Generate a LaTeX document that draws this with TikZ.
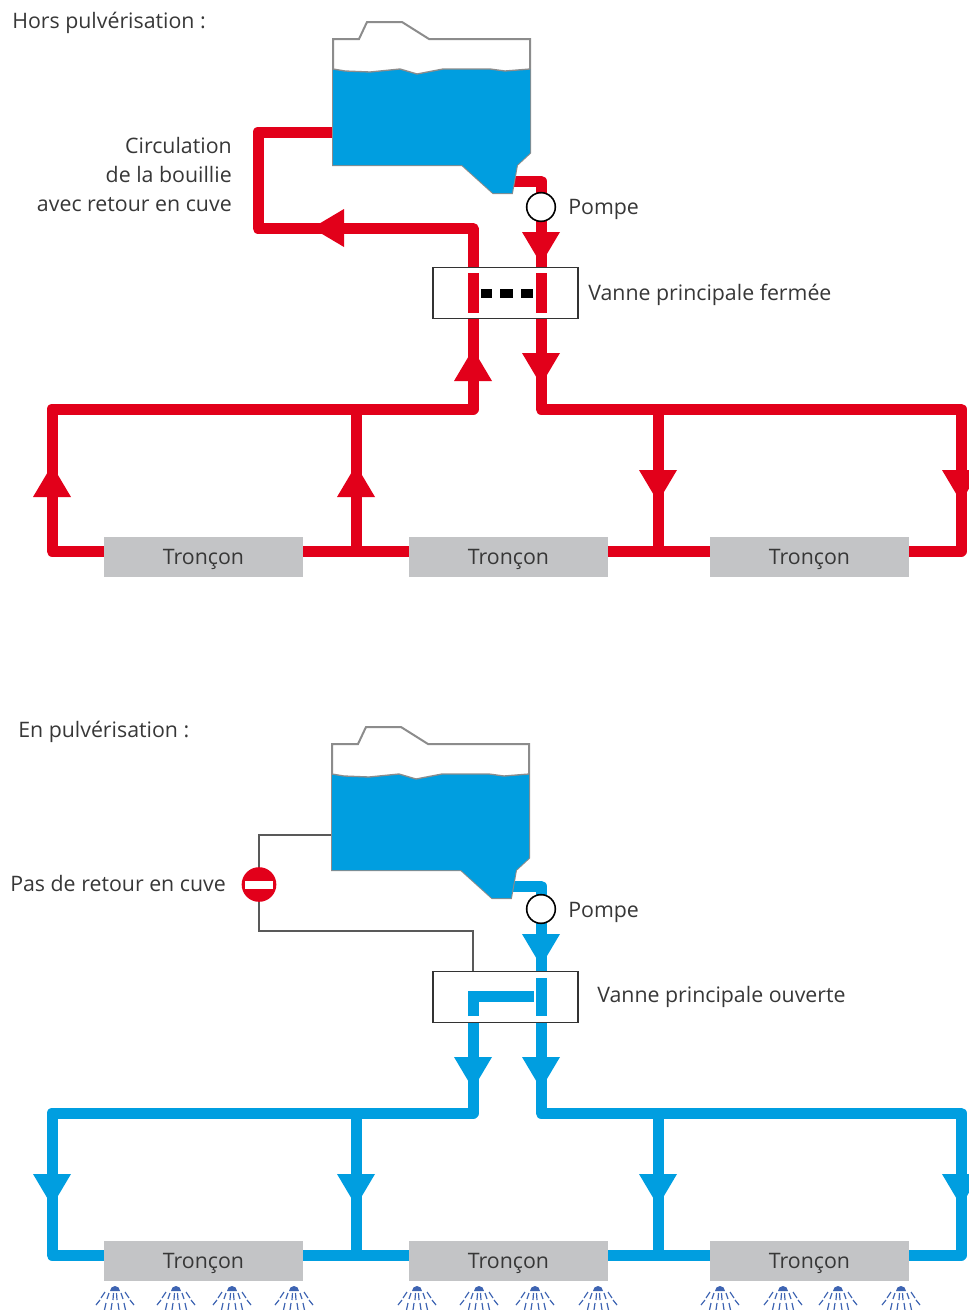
\documentclass[tikz,border=0pt]{standalone}
\usepackage{fontspec}
\setmainfont{Open Sans}
\definecolor{pipered}{RGB}{226,0,26}
\definecolor{pipeblue}{RGB}{0,158,224}
\definecolor{tronconGray}{RGB}{195,196,198}
\definecolor{sprayblue}{RGB}{62,100,178}
\definecolor{labelgray}{RGB}{55,55,55}
\tikzset{
  redpipe/.style={draw=pipered,line width=8.25pt,line join=round},
  bluepipe/.style={draw=pipeblue,line width=8.25pt,line join=round},
  redbar/.style={draw=pipered,line width=8.25pt},
  bluebar/.style={draw=pipeblue,line width=8.25pt},
  drypipe/.style={draw=black!65,line width=1.5pt},
  tanktop/.style={draw=black!45,line width=1.5pt,fill=white},
  pompe/.style={draw=black,line width=1.2pt,fill=white,circle,minimum size=21.5pt,inner sep=0pt},
  vanne/.style={draw=black!80,line width=1.2pt,minimum width=108.75pt,minimum height=38.5pt,inner sep=0pt},
  troncon/.style={fill=tronconGray,minimum width=149.25pt,minimum height=29.5pt,inner sep=0pt},
  legende/.style={text=labelgray,inner sep=0pt,yshift=-1.5pt,font=\fontsize{16}{21.75}\selectfont},
  heaup/.pic={\fill (-19,-16) -- (19,-16) -- (0,16) -- cycle;},
  headown/.pic={\fill (-19,16) -- (19,16) -- (0,-16) -- cycle;},
  headleft/.pic={\fill (16,-19) -- (16,19) -- (-16,0) -- cycle;},
  spray/.pic={
    \fill[sprayblue] (-5,-6) arc (180:0:5) -- cycle;
    \draw[sprayblue,line width=0.9pt] (-1.5,-8) -- (-2,-15) (1.5,-8) -- (2,-15) (-6,-8) -- (-8,-14) (6,-8) -- (8,-14) (-10,-7) -- (-14,-13) (10,-7) -- (14,-13);
    \draw[sprayblue,line width=0.9pt] (-15,-15) -- (-19,-20) (15,-15) -- (19,-20) (-3,-18) -- (-4,-25) (3,-18) -- (4,-25) (-9,-18) -- (-10.5,-25) (9,-18) -- (10.5,-25);
  },
}
\begin{document}
\begin{tikzpicture}[x=0.75pt,y=0.75pt,yscale=-1]
  \useasboundingbox (0,0) rectangle (968,1310);

  %Shape: Pipes hors pulverisation
  \coordinate (retourA) at (333,132);
  \coordinate (retourB) at (258,132);
  \coordinate (retourC) at (258,228.5);
  \coordinate (retourD) at (473,228.5);
  \coordinate (sortieA) at (512,181);
  \coordinate (sortieB) at (541,181);
  \node[troncon] (tronconA) at (203.5,557) {};
  \node[troncon] (tronconB) at (508.5,557) {};
  \node[troncon] (tronconC) at (809.5,557) {};
  \node[vanne] (vanneA) at (505.5,293) {};
  \coordinate (vanneAgauche) at (473,319);
  \coordinate (vanneAdroite) at (541,319);
  \coordinate (vanneAhautG) at (473,267);
  \coordinate (vanneAhautD) at (541,267);
  \coordinate (rampeA) at (473,409);
  \coordinate (rampeB) at (52,409);
  \coordinate (rampeC) at (52,551);
  \coordinate (rampeD) at (541,409);
  \coordinate (rampeE) at (961,409);
  \coordinate (rampeF) at (961,551);
  \coordinate (brancheA) at (356,409);
  \coordinate (brancheB) at (356,551);
  \coordinate (brancheC) at (658,409);
  \coordinate (brancheD) at (658,551);
  \draw[redpipe] (retourA) -- (retourB) -- (retourC) -- (retourD) -- (vanneAhautG);
  \draw[redpipe] (sortieA) -- (sortieB) -- (vanneAhautD);
  \draw[redpipe] (vanneAgauche) -- (rampeA) -- (rampeB) -- (rampeC) -- (tronconA.west |- rampeC);
  \draw[redpipe] (vanneAdroite) -- (rampeD) -- (rampeE) -- (rampeF) -- (tronconC.east |- rampeF);
  \draw[redbar] (tronconA.east |- brancheB) -- (tronconB.west |- brancheB);
  \draw[redbar] (tronconB.east |- brancheD) -- (tronconC.west |- brancheD);
  \draw[redbar] (brancheA) -- (brancheB);
  \draw[redbar] (brancheC) -- (brancheD);

  %Shape: Tank hors pulverisation
  \draw[tanktop] (333,39) -- (359,39) -- (367,22) -- (402,22) -- (429,39) -- (530,39) -- (530,153) -- (517,165) -- (512,193) -- (493,193) -- (462,165) -- (333,165) -- cycle;
  \fill[pipeblue] (333,69) -- (345,71) -- (370,72) -- (400,69) -- (417,74) -- (443,69) -- (490,69) -- (505,71) -- (530,69) -- (530,153) -- (517,165) -- (512,193) -- (493,193) -- (462,165) -- (333,165) -- cycle;
  \draw[draw=black!45,line width=1pt] (333,69) -- (345,71) -- (370,72) -- (400,69) -- (417,74) -- (443,69) -- (490,69) -- (505,71) -- (530,69);

  %Shape: Valve hors pulverisation
  \node[pompe] (pompeA) at (541,207) {};
  \draw[redbar] (473,273) -- (473,313);
  \draw[redbar] (541,273) -- (541,313);
  \fill (481,288.5) rectangle (492,297.5);
  \fill (500,288.5) rectangle (513,297.5);
  \fill (521,288.5) rectangle (533,297.5);

  %Shape: Heads hors pulverisation
  \path (541,248) pic[pipered] {headown};
  \path (541,369) pic[pipered] {headown};
  \path (473,365) pic[pipered] {heaup};
  \path (328,228) pic[pipered] {headleft};
  \path (52,481) pic[pipered] {heaup};
  \path (356,481) pic[pipered] {heaup};
  \path (658,486) pic[pipered] {headown};
  \path (961,486) pic[pipered] {headown};

  %Shape: Pipes en pulverisation
  \coordinate (sortieC) at (512,886);
  \coordinate (sortieD) at (541,886);
  \coordinate (arretA) at (333,835);
  \coordinate (arretB) at (258.5,835);
  \coordinate (arretC) at (258.5,931);
  \coordinate (arretD) at (473,931);
  \node[troncon] (tronconD) at (203.5,1261) {};
  \node[troncon] (tronconE) at (508.5,1261) {};
  \node[troncon] (tronconF) at (809.5,1261) {};
  \node[vanne] (vanneB) at (505.5,997) {};
  \coordinate (vanneBgauche) at (473,1023);
  \coordinate (vanneBdroite) at (541,1023);
  \coordinate (vanneBhautD) at (541,971);
  \coordinate (vanneBhautG) at (473,971);
  \coordinate (rampeG) at (473,1113);
  \coordinate (rampeH) at (52,1113);
  \coordinate (rampeI) at (52,1255);
  \coordinate (rampeJ) at (541,1113);
  \coordinate (rampeK) at (961,1113);
  \coordinate (rampeL) at (961,1255);
  \coordinate (brancheE) at (356,1113);
  \coordinate (brancheF) at (356,1255);
  \coordinate (brancheG) at (658,1113);
  \coordinate (brancheH) at (658,1255);
  \draw[drypipe] (arretA) -- (arretB) -- (arretC) -- (arretD) -- (vanneBhautG);
  \draw[bluepipe] (sortieC) -- (sortieD) -- (vanneBhautD);
  \draw[bluepipe] (vanneBgauche) -- (rampeG) -- (rampeH) -- (rampeI) -- (tronconD.west |- rampeI);
  \draw[bluepipe] (vanneBdroite) -- (rampeJ) -- (rampeK) -- (rampeL) -- (tronconF.east |- rampeL);
  \draw[bluebar] (tronconD.east |- brancheF) -- (tronconE.west |- brancheF);
  \draw[bluebar] (tronconE.east |- brancheH) -- (tronconF.west |- brancheH);
  \draw[bluebar] (brancheE) -- (brancheF);
  \draw[bluebar] (brancheG) -- (brancheH);

  %Shape: Tank en pulverisation
  \draw[tanktop] (332,744) -- (358,744) -- (366,727) -- (401,727) -- (428,744) -- (529,744) -- (529,858) -- (516,870) -- (511,898) -- (492,898) -- (461,870) -- (332,870) -- cycle;
  \fill[pipeblue] (332,774) -- (344,776) -- (369,777) -- (399,774) -- (416,779) -- (442,774) -- (489,774) -- (504,776) -- (529,774) -- (529,858) -- (516,870) -- (511,898) -- (492,898) -- (461,870) -- (332,870) -- cycle;
  \draw[draw=black!45,line width=1pt] (332,774) -- (344,776) -- (369,777) -- (399,774) -- (416,779) -- (442,774) -- (489,774) -- (504,776) -- (529,774);

  %Shape: Valve en pulverisation
  \node[pompe] (pompeB) at (541,909) {};
  \draw[bluebar] (473,1016) -- (473,996) -- (534,996);
  \draw[bluebar] (541,978) -- (541,1016);

  %Shape: No entry sign
  \node[circle,fill=pipered,minimum size=26pt,inner sep=0pt] (sensinterdit) at (259,884.5) {};
  \fill[white] (245,881) rectangle (273,889);

  %Shape: Heads en pulverisation
  \path (541,950) pic[pipeblue] {headown};
  \path (473,1073) pic[pipeblue] {headown};
  \path (541,1073) pic[pipeblue] {headown};
  \path (52,1190) pic[pipeblue] {headown};
  \path (356,1190) pic[pipeblue] {headown};
  \path (658,1190) pic[pipeblue] {headown};
  \path (961,1190) pic[pipeblue] {headown};

  %Shape: Nozzles
  \path (115,1285) pic {spray};
  \path (176,1285) pic {spray};
  \path (232,1285) pic {spray};
  \path (294,1285) pic {spray};
  \path (417,1285) pic {spray};
  \path (479,1285) pic {spray};
  \path (535,1285) pic {spray};
  \path (598,1285) pic {spray};
  \path (720,1285) pic {spray};
  \path (783,1285) pic {spray};
  \path (838,1285) pic {spray};
  \path (901,1285) pic {spray};

  % Text Node
  \node[legende,anchor=west] (titreA) at (12,21) {Hors pulvérisation :};
  % Text Node
  \node[legende,anchor=east,align=right] (circulation) at (232,172) {Circulation\\de la bouillie\\avec retour en cuve};
  % Text Node
  \node[legende,anchor=west] (pompeAtxt) at (568,207) {Pompe};
  % Text Node
  \node[legende,anchor=west] (vanneAtxt) at (588,293) {Vanne principale fermée};
  % Text Node
  \node[legende,anchor=west] (titreB) at (18,730) {En pulvérisation :};
  % Text Node
  \node[legende,anchor=west] (retourtxt) at (10,881) {Pas de retour en cuve};
  % Text Node
  \node[legende,anchor=west] (pompeBtxt) at (568,910) {Pompe};
  % Text Node
  \node[legende,anchor=west] (vanneBtxt) at (597,995) {Vanne principale ouverte};
  % Text Node
  \node[legende] (troncontxtA) at (tronconA) {Tronçon};
  \node[legende] (troncontxtB) at (tronconB) {Tronçon};
  \node[legende] (troncontxtC) at (tronconC) {Tronçon};
  \node[legende] (troncontxtD) at (tronconD) {Tronçon};
  \node[legende] (troncontxtE) at (tronconE) {Tronçon};
  \node[legende] (troncontxtF) at (tronconF) {Tronçon};
\end{tikzpicture}
\end{document}
